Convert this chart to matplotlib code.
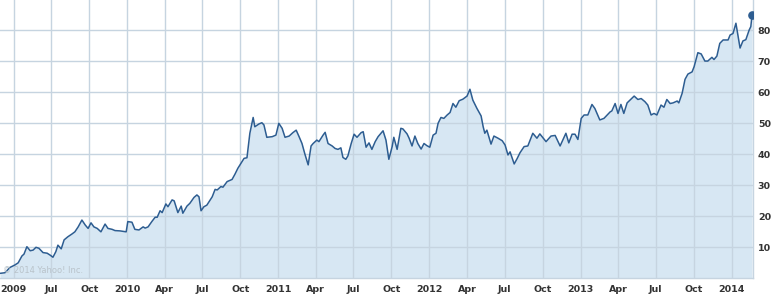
import matplotlib
matplotlib.use("Agg")
import matplotlib.pyplot as plt
import pandas as pd

dates = [
    "2009-02-27", "2009-03-11", "2009-03-23", "2009-04-04", "2009-04-12", "2009-04-21", "2009-04-26",
    "2009-05-03", "2009-05-11", "2009-05-18", "2009-05-25", "2009-06-01", "2009-06-11", "2009-06-21",
    "2009-06-28", "2009-07-05", "2009-07-12", "2009-07-17", "2009-07-25", "2009-08-01", "2009-08-10",
    "2009-08-20", "2009-08-27", "2009-09-04", "2009-09-13", "2009-09-21", "2009-09-28", "2009-10-05",
    "2009-10-12", "2009-10-20", "2009-10-29", "2009-11-08", "2009-11-15", "2009-11-25", "2009-12-02",
    "2009-12-14", "2009-12-29", "2010-01-02", "2010-01-12", "2010-01-19", "2010-01-29",
    "2010-02-08", "2010-02-13", "2010-02-20", "2010-03-01", "2010-03-09", "2010-03-14", "2010-03-21",
    "2010-03-26", "2010-04-04", "2010-04-09", "2010-04-19", "2010-04-24", "2010-05-03", "2010-05-11",
    "2010-05-15", "2010-05-25", "2010-06-01", "2010-06-11", "2010-06-18", "2010-06-23", "2010-06-28",
    "2010-07-05", "2010-07-12", "2010-07-25", "2010-08-01", "2010-08-06", "2010-08-15", "2010-08-20",
    "2010-08-30", "2010-09-11", "2010-09-18", "2010-09-25", "2010-10-05", "2010-10-10", "2010-10-17",
    "2010-10-24", "2010-11-01", "2010-11-05", "2010-11-15", "2010-11-22", "2010-11-27",
    "2010-12-04", "2010-12-17", "2010-12-26", "2011-01-02", "2011-01-10", "2011-01-17", "2011-01-27",
    "2011-02-05", "2011-02-13", "2011-02-20", "2011-02-27", "2011-03-06", "2011-03-14", "2011-03-21",
    "2011-03-26", "2011-04-04", "2011-04-09", "2011-04-19", "2011-04-24", "2011-05-01", "2011-05-11",
    "2011-05-18", "2011-05-25", "2011-06-01", "2011-06-06", "2011-06-13", "2011-06-18", "2011-06-26",
    "2011-07-03", "2011-07-10", "2011-07-20", "2011-07-25", "2011-08-01", "2011-08-08", "2011-08-15",
    "2011-08-23", "2011-08-30", "2011-09-11", "2011-09-18", "2011-09-25", "2011-10-03", "2011-10-07",
    "2011-10-15", "2011-10-24",
    "2011-10-29", "2011-11-08", "2011-11-13", "2011-11-20", "2011-11-27", "2011-12-04", "2011-12-12",
    "2011-12-19", "2011-12-26", "2012-01-02", "2012-01-10", "2012-01-17", "2012-01-22", "2012-01-29",
    "2012-02-05", "2012-02-13", "2012-02-20", "2012-02-27", "2012-03-05", "2012-03-13", "2012-03-22",
    "2012-04-01", "2012-04-08", "2012-04-15", "2012-04-25", "2012-05-05", "2012-05-10", "2012-05-14",
    "2012-05-19", "2012-05-29", "2012-06-05", "2012-06-15", "2012-06-25", "2012-07-02", "2012-07-09",
    "2012-07-14", "2012-07-24",
    "2012-07-31", "2012-08-07", "2012-08-17", "2012-08-26", "2012-09-07", "2012-09-17", "2012-09-24",
    "2012-10-09", "2012-10-21", "2012-10-31", "2012-11-12", "2012-11-26", "2012-12-03", "2012-12-11",
    "2012-12-18", "2012-12-25", "2013-01-02", "2013-01-09", "2013-01-18", "2013-01-28", "2013-02-04",
    "2013-02-16", "2013-02-26", "2013-03-13", "2013-03-17", "2013-03-25", "2013-04-01", "2013-04-08",
    "2013-04-15", "2013-04-23", "2013-04-30", "2013-05-10", "2013-05-19", "2013-05-27", "2013-06-05",
    "2013-06-12", "2013-06-20", "2013-06-27", "2013-07-04", "2013-07-14", "2013-07-21", "2013-07-28",
    "2013-08-05", "2013-08-12", "2013-08-22", "2013-08-26", "2013-09-03", "2013-09-10", "2013-09-17",
    "2013-09-27", "2013-10-02", "2013-10-11", "2013-10-19", "2013-10-28", "2013-11-04", "2013-11-14",
    "2013-11-19", "2013-11-26", "2013-12-03", "2013-12-11", "2013-12-23", "2013-12-28", "2014-01-04",
    "2014-01-11", "2014-01-21", "2014-01-28", "2014-02-04", "2014-02-12", "2014-02-16", "2014-02-19",
]

prices = [
    1.5, 1.7, 3.4, 4.2, 4.9, 7.1, 7.7,
    10.1, 8.8, 9.0, 9.9, 9.6, 8.2, 8.0,
    7.4, 6.7, 8.5, 10.6, 9.4, 12.3, 13.3,
    14.2, 14.9, 16.5, 18.7, 17.1, 16.0, 17.8,
    16.5, 16.0, 14.9, 17.4, 16.0, 15.7, 15.3,
    15.2, 14.9, 18.2, 18.0, 15.7, 15.5,
    16.5, 16.1, 16.5, 18.2, 19.6, 19.6, 21.7,
    21.1, 23.9, 23.0, 25.2, 24.9, 21.1, 23.2,
    20.9, 23.2, 24.1, 26.0, 26.8, 26.2, 21.7,
    23.0, 23.5, 26.2, 28.6, 28.4, 29.5, 29.3,
    31.1, 31.8, 33.5, 35.4, 37.5, 38.6, 38.8,
    46.7, 51.8, 48.8, 49.7, 50.1, 49.4,
    45.4, 45.6, 46.1, 49.9, 48.3, 45.4, 45.8,
    46.9, 47.7, 45.6, 43.4, 40.0, 36.5, 42.6,
    43.4, 44.5, 44.0, 46.1, 47.0, 43.4, 42.6,
    41.8, 41.5, 42.0, 38.9, 38.3, 39.4, 43.4,
    46.4, 45.4, 46.9, 47.2, 42.2, 43.6, 41.5,
    44.0, 45.6, 47.5, 44.5, 38.3, 42.4, 45.4,
    41.5, 48.3,
    48.1, 46.5, 45.1, 42.6, 45.8, 43.4, 41.6,
    43.4, 42.7, 42.2, 46.1, 46.7, 49.9, 51.8,
    51.5, 52.6, 53.4, 56.3, 55.1, 57.2, 57.7,
    58.7, 60.9, 57.4, 54.7, 52.3, 48.8, 46.7,
    47.7, 43.2, 45.8, 45.1, 44.3, 42.9, 39.7,
    40.7, 36.8,
    38.5, 40.4, 42.4, 42.6, 46.7, 45.1, 46.5,
    44.0, 45.8, 46.0, 42.6, 46.7, 43.6, 46.4,
    46.4, 44.7, 51.5, 52.6, 52.6, 56.0, 54.7,
    51.0, 51.5, 53.6, 53.9, 56.3, 53.1, 56.0,
    53.1, 56.5, 57.4, 58.7, 57.6, 57.9, 56.9,
    55.8, 52.6, 53.1, 52.6, 55.8, 55.1, 57.6,
    56.3, 56.5, 57.1, 56.5, 59.6, 64.1, 65.8,
    66.5, 68.2, 72.7, 72.3, 70.0, 70.0, 71.2,
    70.5, 71.6, 75.7, 76.8, 76.8, 78.4, 78.9,
    82.2, 74.2, 76.5, 76.9, 80.0, 81.1, 84.8,
]

x_ticks = ["2009-04-01", "2009-07-01", "2009-10-01", "2010-01-01", "2010-04-01", "2010-07-01",
           "2010-10-01", "2011-01-01", "2011-04-01", "2011-07-01", "2011-10-01", "2012-01-01",
           "2012-04-01", "2012-07-01", "2012-10-01", "2013-01-01", "2013-04-01", "2013-07-01",
           "2013-10-01", "2014-01-01"]
x_labels = ["2009", "Jul", "Oct", "2010", "Apr", "Jul", "Oct", "2011", "Apr", "Jul", "Oct",
            "2012", "Apr", "Jul", "Oct", "2013", "Apr", "Jul", "Oct", "2014"]
y_ticks = [10, 20, 30, 40, 50, 60, 70, 80]

LINE = "#2d5d91"
FILL = "#d7e7f3"
GRID = "#c6d4e0"
TEXT = "#333333"

d = pd.to_datetime(dates)
fig = plt.figure(figsize=(7.74, 2.94), dpi=100)
ax = fig.add_axes([0.0, 16 / 294, 753 / 774, 278 / 294])

ax.fill_between(d, prices, 0, color=FILL, linewidth=0, zorder=1)
ax.plot(d, prices, color=LINE, linewidth=1.1, zorder=3, solid_joinstyle="round")
ax.plot(d[-1:], prices[-1:], "o", color=LINE, markersize=5.2, zorder=4)

ax.set_xlim(pd.Timestamp("2009-02-27"), pd.Timestamp("2014-02-21 07:00"))
ax.set_ylim(0, 89.7)

tick_d = pd.to_datetime(x_ticks)
ax.set_xticks(tick_d)
ax.set_xticklabels(x_labels)
ax.set_yticks(y_ticks)
ax.set_yticklabels([str(v) for v in y_ticks])
ax.yaxis.tick_right()

ax.set_axisbelow(False)
ax.grid(True, color=GRID, linewidth=1.0, zorder=2)
for gl in ax.get_xgridlines() + ax.get_ygridlines():
    gl.set_zorder(2)

ax.tick_params(axis="both", length=0, labelsize=6.8, labelcolor=TEXT)
ax.tick_params(axis="x", pad=5)
ax.tick_params(axis="y", pad=3.5)
for lab in ax.get_xticklabels() + ax.get_yticklabels():
    lab.set_fontweight("bold")
    lab.set_fontfamily("DejaVu Sans")

for s in ["top", "left"]:
    ax.spines[s].set_visible(False)
for s in ["bottom", "right"]:
    ax.spines[s].set_color(GRID)
    ax.spines[s].set_linewidth(1.0)

ax.text(0.004, 0.010, "\u00a9 2014 Yahoo! Inc.", transform=ax.transAxes, fontsize=6.0,
        color="#b9c3ca", ha="left", va="bottom", zorder=5, family="DejaVu Sans")

fig.savefig("out.png", dpi=100, facecolor="white")
